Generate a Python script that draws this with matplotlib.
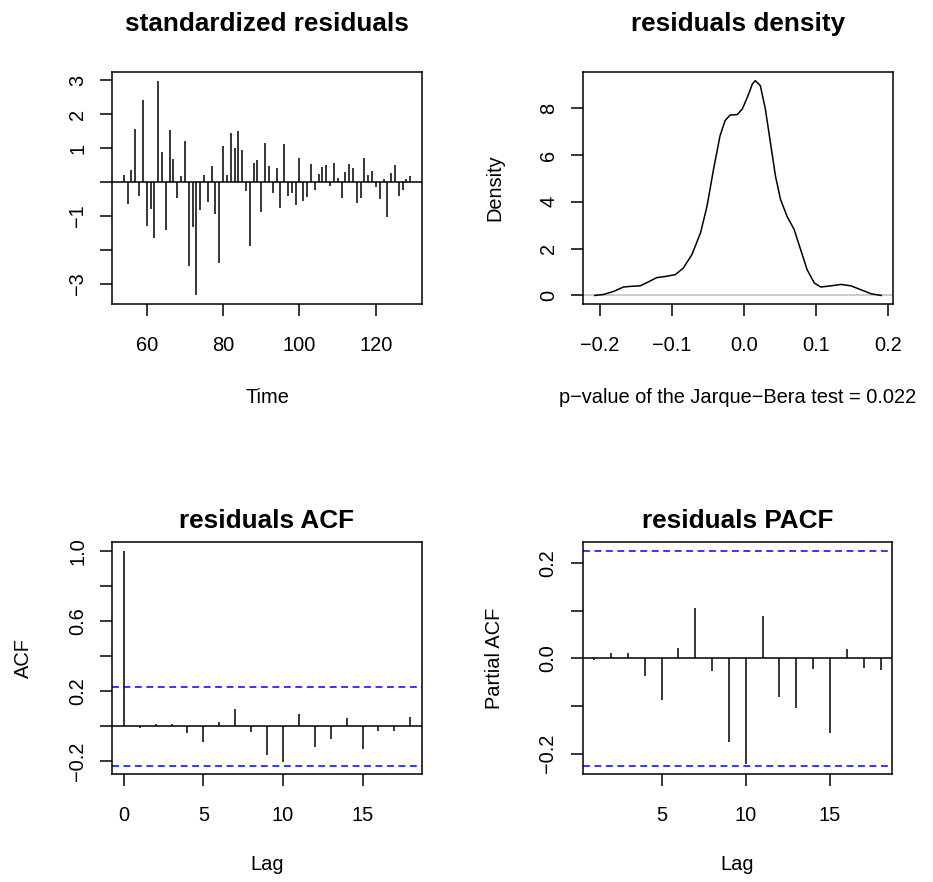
import numpy as np
import matplotlib
matplotlib.use("Agg")
import matplotlib.pyplot as plt

plt.rcParams['font.family'] = ['Liberation Sans', 'DejaVu Sans']

# standardized residuals, one per time step starting at t = 54
time_start = 54
std_resid = [0.20, -0.65, 0.36, 1.56, -0.40, 2.40, -1.30, -0.79, -1.65, 2.98,
             0.88, -1.41, 1.54, 0.68, -0.46, 0.16, 1.19, -2.48, -1.34, -3.34,
             -0.84, 0.19, -0.59, 0.46, -0.94, -2.39, 1.06, 0.21, 1.45, 1.00,
             1.49, 0.93, -0.28, -1.90, 0.56, 0.65, -0.89, 1.16, 0.47, -0.32,
             0.42, -0.76, 1.11, -0.42, -0.32, -0.69, 0.69, -0.55, -0.44, 0.52,
             -0.23, 0.22, 0.44, 0.49, -0.13, 0.55, 0.12, -0.46, 0.30, 0.53,
             0.40, -0.62, -0.47, 0.69, 0.20, 0.31, -0.15, -0.50, 0.08, -1.03,
             0.25, 0.49, -0.40, -0.23, 0.10, 0.18]

# kernel density of the residuals
dens_x = [-0.207, -0.195, -0.181, -0.167, -0.156, -0.144, -0.133, -0.121, -0.107, -0.095,
          -0.084, -0.072, -0.060, -0.051, -0.042, -0.033, -0.026, -0.019, -0.009, -0.002,
          0.005, 0.012, 0.016, 0.023, 0.030, 0.037, 0.044, 0.051, 0.060, 0.070,
          0.079, 0.088, 0.098, 0.107, 0.121, 0.135, 0.149, 0.163, 0.177, 0.191]
dens_y = [0.00, 0.04, 0.17, 0.36, 0.39, 0.41, 0.57, 0.76, 0.82, 0.89,
          1.17, 1.75, 2.68, 3.82, 5.39, 6.82, 7.47, 7.71, 7.73, 7.97,
          8.47, 9.04, 9.18, 8.97, 7.97, 6.54, 5.11, 4.11, 3.39, 2.82,
          1.96, 1.10, 0.53, 0.36, 0.41, 0.47, 0.41, 0.24, 0.07, 0.00]
jb_pvalue = 0.022

acf_lags = list(range(0, 19))
acf_vals = [1.0, -0.01, 0.011, 0.013, -0.038, -0.09, 0.023, 0.10, -0.030, -0.164,
            -0.204, 0.070, -0.118, -0.074, 0.046, -0.131, -0.029, -0.029, 0.05]
pacf_lags = list(range(1, 19))
pacf_vals = [-0.004, 0.011, 0.012, -0.037, -0.088, 0.022, 0.105, -0.026, -0.175,
             -0.221, 0.089, -0.081, -0.105, -0.023, -0.156, 0.020, -0.020, -0.024]
conf_bound = 0.225

LW = 1.1
FS = 14.4
TITLE_FS = 18.8


def style(ax, yticks, ylabels):
    ax.set_yticks(yticks, ylabels, rotation=90, va='center')
    ax.tick_params(length=8.9, width=LW, labelsize=FS, direction='out')
    ax.tick_params(axis='x', pad=14.2)
    ax.tick_params(axis='y', pad=9.3)
    for s in ax.spines.values():
        s.set_linewidth(LW)
    ax.margins(0.04)


def minus(v, fmt):
    return (fmt % v).replace('-', '\u2212')


fig = plt.figure(figsize=(9.33, 8.82), dpi=100)
W, H = 0.3316, 0.263
ax1 = fig.add_axes([0.1204, 0.6553, W, H])
ax2 = fig.add_axes([0.6252, 0.6553, W, H])
ax3 = fig.add_axes([0.1204, 0.1221, W, H])
ax4 = fig.add_axes([0.6245, 0.1221, W, H])

# standardized residuals
t = np.arange(time_start, time_start + len(std_resid))
ax1.vlines(t, 0, std_resid, color='black', lw=LW)
ax1.axhline(0, color='black', lw=LW)
style(ax1, [-3, -2, -1, 0, 1, 2, 3], ['\u22123', '', '\u22121', '', '1', '2', '3'])
ax1.set_xticks([60, 80, 100, 120])
ax1.set_title('standardized residuals', fontsize=TITLE_FS, fontweight='bold', pad=29.4)
ax1.set_xlabel('Time', fontsize=FS)
ax1.xaxis.set_label_coords(0.5, -0.36)

# residual density
ax2.axhline(0, color='#bebebe', lw=LW)
ax2.plot(dens_x, dens_y, color='black', lw=LW)
dt = [0, 2, 4, 6, 8]
style(ax2, dt, [str(v) for v in dt])
xt = [-0.2, -0.1, 0.0, 0.1, 0.2]
ax2.set_xticks(xt, [minus(v, '%.1f') for v in xt])
ax2.set_title('residuals density', fontsize=TITLE_FS, fontweight='bold', pad=29.4)
ax2.set_xlabel('p\u2212value of the Jarque\u2212Bera test = %.3f' % jb_pvalue, fontsize=FS)
ax2.xaxis.set_label_coords(0.5, -0.36)
ax2.set_ylabel('Density', fontsize=FS)
ax2.yaxis.set_label_coords(-0.255, 0.5)

# ACF
ax3.vlines(acf_lags, 0, acf_vals, color='black', lw=LW)
ax3.axhline(0, color='black', lw=LW)
for b in (conf_bound, -conf_bound):
    ax3.axhline(b, color='blue', lw=LW, ls=(0, (4.5, 3)))
style(ax3, [-0.2, 0.0, 0.2, 0.4, 0.6, 0.8, 1.0], ['\u22120.2', '', '0.2', '', '0.6', '', '1.0'])
lo = min(min(acf_vals), -conf_bound)
hi = max(max(acf_vals), conf_bound)
ax3.set_ylim(lo - 0.04 * (hi - lo), hi + 0.04 * (hi - lo))
ax3.set_xticks([0, 5, 10, 15])
ax3.set_title('residuals ACF', fontsize=TITLE_FS, fontweight='bold', pad=10)
ax3.set_xlabel('Lag', fontsize=FS)
ax3.xaxis.set_label_coords(0.5, -0.346)
ax3.set_ylabel('ACF', fontsize=FS)
ax3.yaxis.set_label_coords(-0.255, 0.5)

# PACF
ax4.vlines(pacf_lags, 0, pacf_vals, color='black', lw=LW)
ax4.axhline(0, color='black', lw=LW)
for b in (conf_bound, -conf_bound):
    ax4.axhline(b, color='blue', lw=LW, ls=(0, (4.5, 3)))
style(ax4, [-0.2, -0.1, 0.0, 0.1, 0.2], ['\u22120.2', '', '0.0', '', '0.2'])
lo = min(min(pacf_vals), -conf_bound)
hi = max(max(pacf_vals), conf_bound)
ax4.set_ylim(lo - 0.04 * (hi - lo), hi + 0.04 * (hi - lo))
ax4.set_xticks([5, 10, 15])
ax4.set_title('residuals PACF', fontsize=TITLE_FS, fontweight='bold', pad=10)
ax4.set_xlabel('Lag', fontsize=FS)
ax4.xaxis.set_label_coords(0.5, -0.346)
ax4.set_ylabel('Partial ACF', fontsize=FS)
ax4.yaxis.set_label_coords(-0.255, 0.5)

fig.savefig('out.png', dpi=100)
